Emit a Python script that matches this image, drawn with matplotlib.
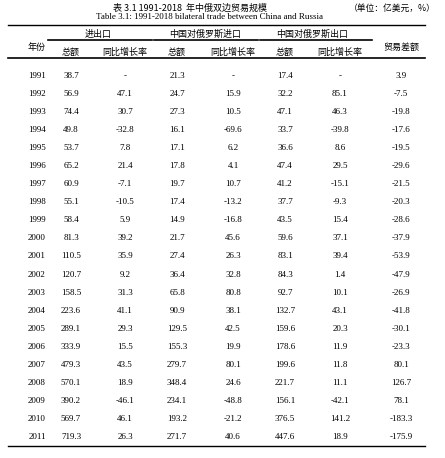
import matplotlib
matplotlib.use("Agg")
import matplotlib.pyplot as plt
from matplotlib.lines import Line2D

years = list(range(1991, 2012))
total = ["38.7","56.9","74.4","49.8","53.7","65.2","60.9","55.1","58.4","81.3","110.5","120.7","158.5","223.6","289.1","333.9","479.3","570.1","390.2","569.7","719.3"]
total_g = ["-","47.1","30.7","-32.8","7.8","21.4","-7.1","-10.5","5.9","39.2","35.9","9.2","31.3","41.1","29.3","15.5","43.5","18.9","-46.1","46.1","26.3"]
imp = ["21.3","24.7","27.3","16.1","17.1","17.8","19.7","17.4","14.9","21.7","27.4","36.4","65.8","90.9","129.5","155.3","279.7","348.4","234.1","193.2","271.7"]
imp_g = ["-","15.9","10.5","-69.6","6.2","4.1","10.7","-13.2","-16.8","45.6","26.3","32.8","80.8","38.1","42.5","19.9","80.1","24.6","-48.8","-21.2","40.6"]
exp = ["17.4","32.2","47.1","33.7","36.6","47.4","41.2","37.7","43.5","59.6","83.1","84.3","92.7","132.7","159.6","178.6","199.6","221.7","156.1","376.5","447.6"]
exp_g = ["-","85.1","46.3","-39.8","8.6","29.5","-15.1","-9.3","15.4","37.1","39.4","1.4","10.1","43.1","20.3","11.9","11.8","11.1","-42.1","141.2","18.9"]
bal = ["3.9","-7.5","-19.8","-17.6","-19.5","-29.6","-21.5","-20.3","-28.6","-37.9","-53.9","-47.9","-26.9","-41.8","-30.1","-23.3","80.1","126.7","78.1","-183.3","-175.9"]

W, H = 445, 458
fig = plt.figure(figsize=(W/100, H/100), dpi=100)
fig.patch.set_facecolor("white")
FAM = ["Liberation Serif", "Noto Sans CJK SC"]
CJK = ["Noto Sans CJK SC", "Liberation Serif"]

def T(x, y, s, fs=6.5, fam=FAM, ha="center", **kw):
    fig.text(x/W, 1-y/H, s, fontsize=fs, family=fam, ha=ha, va="center", **kw)

def L(x0, x1, y, lw=1.0):
    fig.add_artist(Line2D([x0/W, x1/W], [1-y/H, 1-y/H], color="black", lw=lw))

T(190, 8, "表 3.1 1991-2018  年中俄双边贸易规模", fs=6.5, fam=CJK)
T(436, 8, "（单位：亿美元，%）", fs=6.3, fam=CJK, ha="right")
T(210, 17, "Table 3.1: 1991-2018 bilateral trade between China and Russia", fs=6.5)
L(8, 425, 25, 1.0)
T(98, 34, "进出口", fam=CJK)
T(205, 34, "中国对俄罗斯进口", fam=CJK)
T(312, 34, "中国对俄罗斯出口", fam=CJK)
T(37, 47, "年份", fam=CJK)
T(401, 47, "贸易差额", fam=CJK)
for a, b in [(48, 152), (154, 258), (260, 372)]:
    L(a, b, 40, 1.2)
for x, s in [(71, "总额"), (125, "同比增长率"), (177, "总额"), (233, "同比增长率"), (285, "总额"), (340, "同比增长率")]:
    T(x, 52, s, fam=CJK)
L(8, 425, 58, 1.2)

cols = [(37, years), (71, total), (125, total_g), (177, imp), (233, imp_g), (285, exp), (340, exp_g), (401, bal)]
for i in range(len(years)):
    y = 76 + i * 18.05
    for x, arr in cols:
        T(x, y, str(arr[i]))
L(8, 425, 446, 1.0)

fig.savefig("out.png", dpi=100, facecolor="white")
